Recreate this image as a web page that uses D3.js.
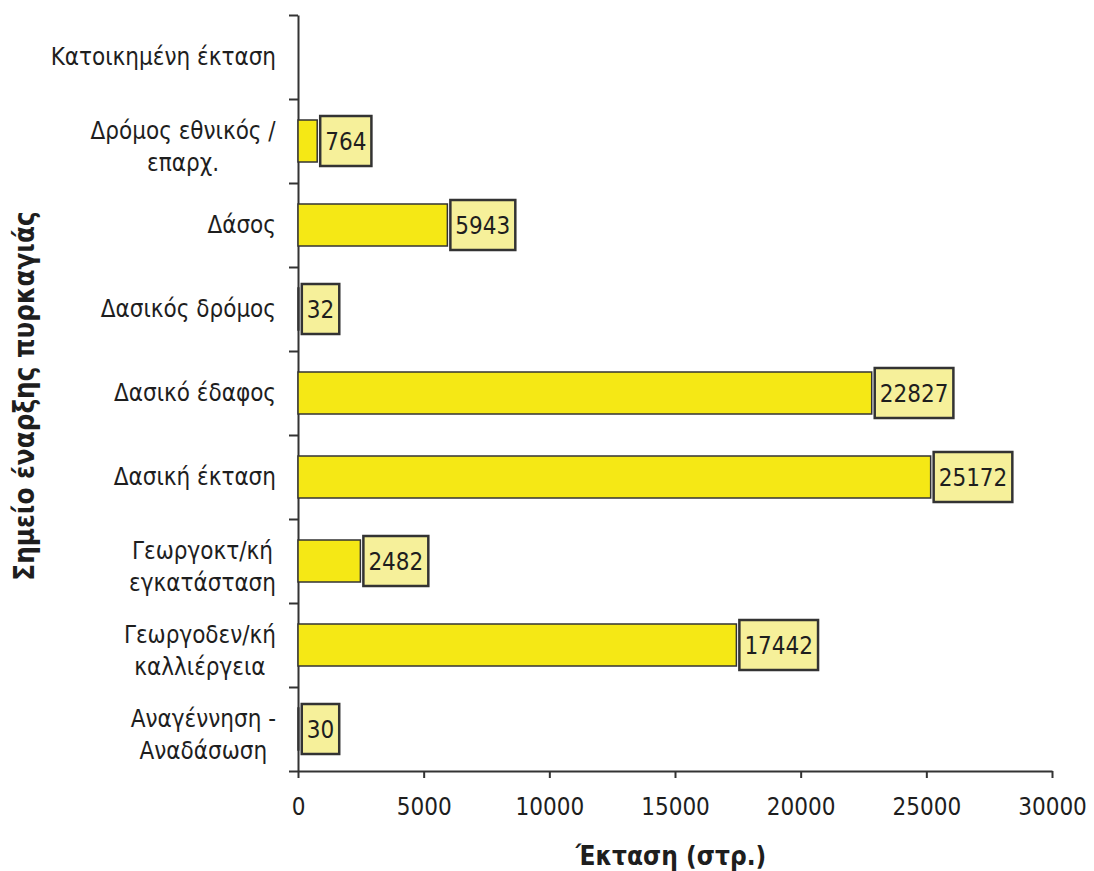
<!DOCTYPE html>
<html>
<head>
<meta charset="utf-8">
<script src="https://cdn.jsdelivr.net/npm/d3@7"></script>
<style>
  body { margin: 0; background: #fff; }
  text { font-family: "DejaVu Sans Condensed", "DejaVu Sans", sans-serif; font-stretch: condensed; fill: #1e1e1e; }
  .axis path, .axis line { stroke: #333; stroke-width: 2; }
  .bar { fill: #f5e815; stroke: #333; stroke-width: 1.5; }
  .lblbox { fill: #f6f09a; stroke: #333; stroke-width: 2.5; }
</style>
</head>
<body>
<div id="chart-container"></div>
<script>
// categories, top to bottom (each entry is the lines of the label)
const categories = [
  ["Κατοικημένη έκταση"],
  ["Δρόμος εθνικός /", "επαρχ."],
  ["Δάσος"],
  ["Δασικός δρόμος"],
  ["Δασικό έδαφος"],
  ["Δασική έκταση"],
  ["Γεωργοκτ/κή", "εγκατάσταση"],
  ["Γεωργοδεν/κή", "καλλιέργεια"],
  ["Αναγέννηση -", "Αναδάσωση"]
];
const values = [null, 764, 5943, 32, 22827, 25172, 2482, 17442, 30];
const xTicks = [0, 5000, 10000, 15000, 20000, 25000, 30000];

const margin = {top: 15, right: 42, bottom: 100, left: 298},
    width = 1094 - margin.left - margin.right,
    height = 871 - margin.top - margin.bottom;

const svg = d3.select("#chart-container")
    .append("svg")
    .attr("width", 1094)
    .attr("height", 871)
    .append("g")
    .attr("transform", `translate(${margin.left},${margin.top})`);

const data = categories.map((c, i) => ({key: i, lines: c, value: values[i]}));

const x = d3.scaleLinear().domain([0, 30000]).range([0, width]);
const y = d3.scaleBand().domain(data.map(d => d.key)).range([0, height]).paddingInner(0.5).paddingOuter(0.25);
// boundaries between categories, for the tick marks
const yEdge = d3.scaleLinear().domain([0, categories.length]).range([0, height]);

// X axis
const xAxis = svg.append("g")
    .attr("class", "axis")
    .attr("transform", `translate(0,${height})`)
    .call(d3.axisBottom(x).tickValues(xTicks).tickFormat(d3.format("d")).tickSize(7).tickSizeOuter(0).tickPadding(20));
xAxis.selectAll("text").style("font-size", "24px").attr("fill", "#1e1e1e")
    .style("font-family", "'DejaVu Sans Condensed', 'DejaVu Sans', sans-serif");

// Y axis (ticks at category edges)
svg.append("g")
    .attr("class", "axis")
    .call(d3.axisLeft(yEdge).tickValues(d3.range(categories.length + 1)).tickFormat("").tickSize(9).tickSizeOuter(0));

// category labels
const catG = svg.append("g");
data.forEach(d => {
  const cy = y(d.key) + y.bandwidth() / 2;
  const lh = 32;
  const t = catG.append("text")
      .attr("text-anchor", "middle")
      .style("font-size", "24px");
  d.lines.forEach((ln, j) => {
    t.append("tspan")
      .attr("x", 0)
      .attr("y", cy + (j - (d.lines.length - 1) / 2) * lh + (d.lines.length > 1 ? 6 : 0))
      .attr("dy", "0.35em")
      .text(ln);
  });
  // right-align the block, keep lines centered to each other
  const w = t.node().getBBox().width;
  t.attr("transform", `translate(${-22 - w / 2},0)`);
});

// Bars
const barData = data.filter(d => d.value != null);
svg.selectAll("rect.bar")
    .data(barData)
    .join("rect")
    .attr("class", "bar")
    .attr("x", 0)
    .attr("y", d => y(d.key))
    .attr("width", d => x(d.value))
    .attr("height", y.bandwidth());

// value labels in boxes
barData.forEach(d => {
  const g = svg.append("g");
  const tx = x(d.value) + 3;
  const cy = y(d.key) + y.bandwidth() / 2;
  const txt = g.append("text")
      .attr("x", tx + 5)
      .attr("y", cy)
      .attr("dy", "0.36em")
      .style("font-size", "24px")
      .text(d.value);
  const w = txt.node().getComputedTextLength();
  g.insert("rect", "text")
      .attr("class", "lblbox")
      .attr("x", tx)
      .attr("y", cy - 25)
      .attr("width", w + 10)
      .attr("height", 50);
});

// Axis titles
svg.append("text")
    .attr("x", 671 - margin.left)
    .attr("y", height + 94)
    .attr("text-anchor", "middle")
    .style("font-size", "26px")
    .style("font-weight", "bold")
    .text("Έκταση (στρ.)");

svg.append("text")
    .attr("transform", `translate(${24 - margin.left},${396 - margin.top}) rotate(-90)`)
    .attr("text-anchor", "middle")
    .attr("dy", "0.35em")
    .style("font-size", "27.5px")
    .style("font-weight", "bold")
    .text("Σημείο έναρξης πυρκαγιάς");
</script>
</body>
</html>
